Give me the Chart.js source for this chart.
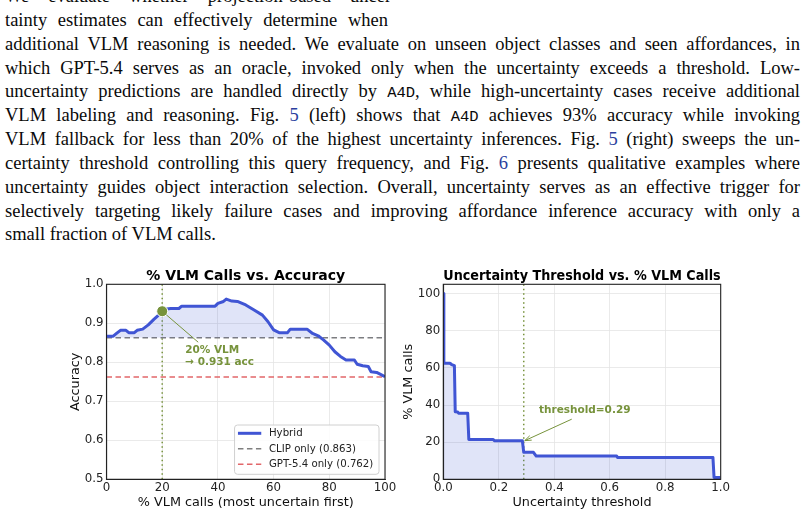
<!DOCTYPE html>
<html>
<head>
<meta charset="utf-8">
<script src="https://cdn.jsdelivr.net/npm/chart.js@4.4.1/dist/chart.umd.min.js"></script>
<style>
  html, body { margin: 0; padding: 0; background: #fff; width: 805px; height: 516px; overflow: hidden; position: relative; }
  #txt { position: absolute; left: 5px; top: -15px; font-family: "Liberation Serif", "Times New Roman", serif; font-size: 18.5px; line-height: 23.85px; color: #0a0a0a; }
  .ln { display: block; width: max-content; white-space: nowrap; height: 23.85px; }
  .tt { font-family: "Liberation Mono", monospace; font-size: 15.5px; }
  .ref { color: #2b3f9e; }
  canvas { position: absolute; }
</style>
</head>
<body>
<div id="txt">
<div class="ln" data-w="392">We evaluate whether projection-based uncer-</div>
<div class="ln" data-w="383">tainty estimates can effectively determine when</div>
<div class="ln" data-w="795">additional VLM reasoning is needed. We evaluate on unseen object classes and seen affordances, in</div>
<div class="ln" data-w="795">which GPT-5.4 serves as an oracle, invoked only when the uncertainty exceeds a threshold. Low-</div>
<div class="ln" data-w="795">uncertainty predictions are handled directly by <span class="tt">A4D</span>, while high-uncertainty cases receive additional</div>
<div class="ln" data-w="795">VLM labeling and reasoning. Fig. <span class="ref">5</span> (left) shows that <span class="tt">A4D</span> achieves 93% accuracy while invoking</div>
<div class="ln" data-w="795">VLM fallback for less than 20% of the highest uncertainty inferences. Fig. <span class="ref">5</span> (right) sweeps the un-</div>
<div class="ln" data-w="795">certainty threshold controlling this query frequency, and Fig. <span class="ref">6</span> presents qualitative examples where</div>
<div class="ln" data-w="795">uncertainty guides object interaction selection. Overall, uncertainty serves as an effective trigger for</div>
<div class="ln" data-w="795">selectively targeting likely failure cases and improving affordance inference accuracy with only a</div>
<div class="ln">small fraction of VLM calls.</div>
</div>
<canvas id="accChart" width="345" height="252" style="left:55px;top:264px;"></canvas>
<canvas id="thrChart" width="405" height="252" style="left:400px;top:264px;"></canvas>
<script>
// left: accuracy vs share of VLM calls
const accX = [0, 2.4, 3.6, 5, 7, 8, 10, 11, 13, 15, 17, 19, 20, 21, 23, 26, 27, 35, 39, 40, 42, 43, 45, 47, 50, 53, 56, 58, 60, 62, 65, 66, 72, 74, 76, 78, 80, 82, 84, 86, 89, 90, 92, 94, 95, 97, 100];
const accY = [0.867, 0.867, 0.874, 0.882, 0.882, 0.876, 0.876, 0.882, 0.885, 0.896, 0.910, 0.923, 0.931, 0.936, 0.938, 0.938, 0.944, 0.944, 0.944, 0.951, 0.956, 0.962, 0.957, 0.956, 0.947, 0.934, 0.921, 0.904, 0.883, 0.876, 0.876, 0.885, 0.885, 0.874, 0.868, 0.857, 0.844, 0.827, 0.815, 0.806, 0.806, 0.795, 0.791, 0.789, 0.776, 0.774, 0.763];
const clipAcc = 0.863;
const gptAcc = 0.762;
const pickPct = 20;
const pickAcc = 0.931;
const accXTicks = [0, 20, 40, 60, 80, 100];
const accYTicks = [0.5, 0.6, 0.7, 0.8, 0.9, 1.0];

// right: % VLM calls vs uncertainty threshold
const thrX = [0, 0.002, 0.024, 0.03, 0.04, 0.043, 0.052, 0.055, 0.088, 0.092, 0.18, 0.184, 0.285, 0.29, 0.325, 0.335, 0.625, 0.628, 0.972, 0.976, 1.0];
const thrPct = [100, 62.5, 62.5, 61.8, 61.2, 36.4, 36.2, 35.6, 35.6, 21.4, 21.4, 20.8, 20.8, 14.5, 14.5, 12.5, 12.5, 11.8, 11.8, 1.0, 1.0];
const thrPick = 0.29;
const thrPickPct = 20.8;
const thrXTicks = [0, 0.2, 0.4, 0.6, 0.8, 1.0];
const thrYTicks = [0, 20, 40, 60, 80, 100];

// fit justified lines of the paragraph
document.querySelectorAll(".ln[data-w]").forEach(function (el) {
  const nat = el.getBoundingClientRect().width;
  const n = (el.textContent.match(/ /g) || []).length;
  el.style.wordSpacing = (+el.dataset.w - nat) / n + "px";
});

Chart.defaults.font.family = "'DejaVu Sans', sans-serif";
Chart.defaults.color = "#222";

const blue = "#4055d4";
const fillBlue = "rgba(64, 85, 212, 0.16)";
const green = "#77933c";
const gridCol = "#e4e4e4";

function pts(xs, ys) {
  return xs.map((x, i) => ({ x: x, y: ys[i] }));
}

const frame = {
  id: "frame",
  afterDraw(chart) {
    const a = chart.chartArea, c = chart.ctx;
    c.save();
    c.strokeStyle = "#222";
    c.lineWidth = 1.1;
    c.strokeRect(a.left, a.top, a.right - a.left, a.bottom - a.top);
    c.restore();
  },
};

function vDotted(chart, xv) {
  const c = chart.ctx, a = chart.chartArea;
  const px = chart.scales.x.getPixelForValue(xv);
  c.save();
  c.strokeStyle = green;
  c.lineWidth = 1.5;
  c.setLineDash([1.5, 3]);
  c.beginPath();
  c.moveTo(px, a.bottom);
  c.lineTo(px, a.top);
  c.stroke();
  c.restore();
}

function axisCfg(ticks, fmt, titleText, titlePad, fitFn) {
  return {
    type: "linear",
    min: ticks[0],
    afterBuildTicks: (s) => { s.ticks = ticks.map((v) => ({ value: v })); },
    afterFit: fitFn,
    grid: { color: gridCol, lineWidth: 0.8, drawTicks: false },
    border: { display: true, color: "#222", width: 1.1 },
    ticks: { font: { size: 11.8 }, color: "#222", callback: fmt },
    title: { display: true, text: titleText, font: { size: 12.8 }, color: "#111", padding: titlePad },
  };
}

// left chart
const accXAxis = axisCfg(accXTicks, (v) => v, "% VLM calls (most uncertain first)", { top: 0, bottom: 5.5 }, (s) => { s.height = 36.7; });
accXAxis.max = 100;
accXAxis.ticks.padding = 2;
const accYAxis = axisCfg(accYTicks, (v) => v.toFixed(1), "Accuracy", { top: 12.5, bottom: 0 }, (s) => { s.width = 51.5; });
accYAxis.max = 1.0;
accYAxis.ticks.padding = 3;

const accPlugin = {
  id: "accNotes",
  beforeDatasetsDraw(chart) {
    vDotted(chart, pickPct);
  },
  afterDatasetsDraw(chart) {
    const c = chart.ctx;
    const px = chart.scales.x.getPixelForValue(pickPct);
    const py = chart.scales.y.getPixelForValue(pickAcc);
    c.save();
    c.strokeStyle = green;
    c.lineWidth = 1;
    c.beginPath();
    c.moveTo(px + 4, py + 3.5);
    c.lineTo(px + 36, py + 31);
    c.stroke();
    c.fillStyle = green;
    c.font = "bold 10.5px 'DejaVu Sans'";
    c.textBaseline = "middle";
    c.fillText(pickPct + "% VLM", px + 23, py + 39);
    c.fillText("\u2192 " + pickAcc.toFixed(3) + " acc", px + 23, py + 51.5);
    c.restore();
  },
  afterDraw(chart) {
    // legend in lower right of plot
    const c = chart.ctx, a = chart.chartArea;
    const items = chart.data.datasets.filter((d) => d.legend);
    c.save();
    c.font = "10.2px 'DejaVu Sans'";
    let maxW = 0;
    items.forEach((d) => { maxW = Math.max(maxW, c.measureText(d.label).width); });
    const w = 34.4 + maxW + 5.7, h = 49.3;
    const x0 = a.right - 6 - w, y0 = a.bottom - 5 - h;
    c.fillStyle = "rgba(255,255,255,0.85)";
    c.strokeStyle = "#d0d0d0";
    c.lineWidth = 1;
    c.beginPath();
    c.roundRect(x0, y0, w, h, 3);
    c.fill();
    c.stroke();
    items.forEach((d, i) => {
      const y = y0 + 8.3 + i * 15.5;
      c.strokeStyle = d.borderColor;
      c.lineWidth = d.borderWidth;
      c.setLineDash(d.borderDash || []);
      c.beginPath();
      c.moveTo(x0 + 3.4, y);
      c.lineTo(x0 + 26.7, y);
      c.stroke();
      c.setLineDash([]);
      c.fillStyle = "#222";
      c.textBaseline = "middle";
      c.fillText(d.label, x0 + 34.4, y + 0.5);
    });
    c.restore();
  },
};

new Chart(document.getElementById("accChart"), {
  type: "line",
  data: {
    datasets: [
      {
        label: "pick",
        data: [{ x: pickPct, y: pickAcc }],
        showLine: false,
        pointRadius: 5.5,
        backgroundColor: green,
        borderColor: "#fff",
        borderWidth: 1,
      },
      {
        label: "Hybrid",
        legend: true,
        data: pts(accX, accY),
        borderColor: blue,
        borderWidth: 3,
        borderJoinStyle: "round",
        pointRadius: 0,
        fill: { target: { value: clipAcc }, above: fillBlue, below: "rgba(0,0,0,0)" },
      },
      {
        label: "CLIP only (" + clipAcc.toFixed(3) + ")",
        legend: true,
        data: [{ x: 0, y: clipAcc }, { x: 100, y: clipAcc }],
        borderColor: "#7f7f7f",
        borderWidth: 1.5,
        borderDash: [5.5, 3.5],
        pointRadius: 0,
      },
      {
        label: "GPT-5.4 only (" + gptAcc.toFixed(3) + ")",
        legend: true,
        data: [{ x: 0, y: gptAcc }, { x: 100, y: gptAcc }],
        borderColor: "#e2676a",
        borderWidth: 1.5,
        borderDash: [5.5, 3.5],
        pointRadius: 0,
      },
    ],
  },
  options: {
    responsive: false,
    animation: false,
    devicePixelRatio: 1,
    layout: { padding: { left: 0, right: 15, top: 0, bottom: 0 } },
    scales: { x: accXAxis, y: accYAxis },
    plugins: {
      legend: { display: false },
      tooltip: { enabled: false },
      title: {
        display: true,
        fullSize: false,
        text: "% VLM Calls vs. Accuracy",
        color: "#000",
        font: { size: 14, weight: "bold", lineHeight: 1 },
        padding: { top: 5.7, bottom: 0.6 },
      },
    },
  },
  plugins: [frame, accPlugin],
});

// right chart
const thrXAxis = axisCfg(thrXTicks, (v) => v.toFixed(1), "Uncertainty threshold", { top: 0, bottom: 5.5 }, (s) => { s.height = 36.7; });
thrXAxis.max = 1.0;
thrXAxis.ticks.padding = 2;
const thrYAxis = axisCfg(thrYTicks, (v) => v, "% VLM calls", { top: 0.8, bottom: 0 }, (s) => { s.width = 43.3; });
thrYAxis.max = 105;
thrYAxis.ticks.padding = 3;

const thrPlugin = {
  id: "thrNotes",
  beforeDatasetsDraw(chart) {
    vDotted(chart, thrPick);
  },
  afterDatasetsDraw(chart) {
    const c = chart.ctx;
    const px = chart.scales.x.getPixelForValue(thrPick);
    const py = chart.scales.y.getPixelForValue(thrPickPct);
    const sx = px + 48, sy = py - 21.5;
    const ex = px + 1, ey = py;
    const ang = Math.atan2(ey - sy, ex - sx);
    c.save();
    c.strokeStyle = green;
    c.lineWidth = 1;
    c.beginPath();
    c.moveTo(sx, sy);
    c.lineTo(ex, ey);
    c.moveTo(ex - 7 * Math.cos(ang - 0.35), ey - 7 * Math.sin(ang - 0.35));
    c.lineTo(ex, ey);
    c.lineTo(ex - 7 * Math.cos(ang + 0.35), ey - 7 * Math.sin(ang + 0.35));
    c.stroke();
    c.fillStyle = green;
    c.font = "bold 10.5px 'DejaVu Sans'";
    c.textAlign = "center";
    c.textBaseline = "middle";
    c.fillText("threshold=" + thrPick.toFixed(2), px + 61, py - 30);
    c.restore();
  },
};

new Chart(document.getElementById("thrChart"), {
  type: "line",
  data: {
    datasets: [
      {
        label: "% VLM calls",
        data: pts(thrX, thrPct),
        borderColor: blue,
        borderWidth: 3,
        borderJoinStyle: "round",
        pointRadius: 0,
        fill: { target: "origin", above: fillBlue },
      },
    ],
  },
  options: {
    responsive: false,
    animation: false,
    devicePixelRatio: 1,
    layout: { padding: { left: 0, right: 84.3, top: 0, bottom: 0 } },
    scales: { x: thrXAxis, y: thrYAxis },
    plugins: {
      legend: { display: false },
      tooltip: { enabled: false },
      title: {
        display: true,
        fullSize: false,
        text: "Uncertainty Threshold vs. % VLM Calls",
        color: "#000",
        font: { size: 14, weight: "bold", lineHeight: 1 },
        padding: { top: 5.7, bottom: 0.6 },
      },
    },
  },
  plugins: [frame, thrPlugin],
});
</script>
</body>
</html>
